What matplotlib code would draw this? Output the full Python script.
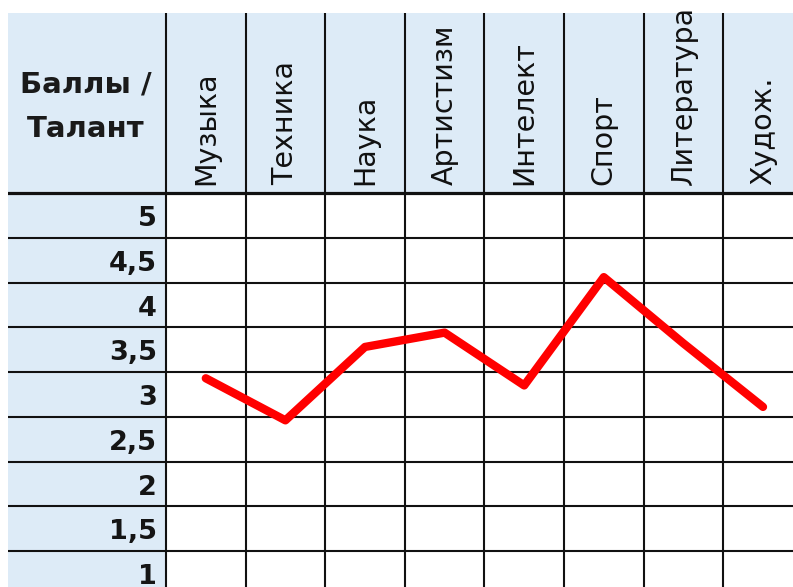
import numpy as np
import matplotlib.pyplot as plt

talents = ["Музыка", "Техника", "Наука", "Артистизм", "Интелект", "Спорт", "Литература", "Худож."]
scores = [3.18, 2.71, 3.53, 3.69, 3.10, 4.31, 3.57, 2.86]
levels = [5, 4.5, 4, 3.5, 3, 2.5, 2, 1.5, 1]
level_labels = ["5", "4,5", "4", "3,5", "3", "2,5", "2", "1,5", "1"]
corner_title = ["Баллы /", "Талант"]

blue = '#DDEBF7'

fig = plt.figure(figsize=(7.93, 5.87), dpi=100)
ax = fig.add_axes([8/793, 0, 785/793, 574/587])

x0, x1 = -2.485, 7.377
y0, y1 = 0.848, 7.261
head = 5.25   # bottom of header row

# blue header and label column
ax.fill_between([x0, x1], head, y1, color=blue, lw=0, zorder=0)
ax.fill_between([x0, -0.5], y0, head, color=blue, lw=0, zorder=0)

# table grid
for v in levels:
    lw = 2.3 if v + 0.25 == head else 1.5
    ax.axhline(v + 0.25, color='#111111', lw=lw, zorder=1)
for i in range(len(talents)):
    ax.axvline(i - 0.5, color='#111111', lw=1.5, zorder=1)

# header texts
for i, t in enumerate(talents):
    ax.text(i, head + 0.09, t, rotation=90, ha='center', va='bottom',
            fontsize=20.5, color='#111111')
ax.text(-1.505, 6.378, corner_title[0], ha='center', va='baseline',
        fontsize=21, fontweight='bold', color='#1a1a1a')
ax.text(-1.505, 5.876, corner_title[1], ha='center', va='baseline',
        fontsize=21, fontweight='bold', color='#1a1a1a')

# row labels
for v, lab in zip(levels, level_labels):
    ax.text(-0.613, v - 0.12, lab, ha='right', va='baseline',
            fontsize=19.5, fontweight='bold', color='#151515')

# the red line
ax.plot(np.arange(len(talents)), scores, color='#FF0000', lw=6,
        solid_capstyle='round', solid_joinstyle='round', zorder=3)

ax.set_xlim(x0, x1)
ax.set_ylim(y0, y1)
ax.axis('off')

plt.savefig('out.png', dpi=100)
